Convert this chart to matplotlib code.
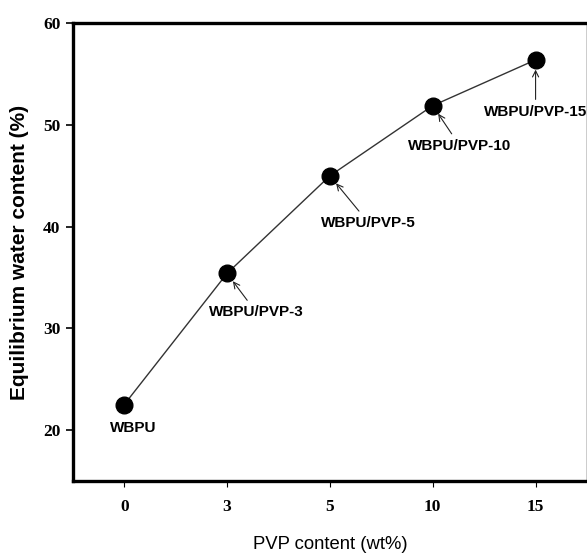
import matplotlib.pyplot as plt

# PVP content categories and equilibrium water content
pvp_labels = ['0', '3', '5', '10', '15']
ewc = [22.5, 35.4, 45.0, 51.9, 56.4]
names = ['WBPU', 'WBPU/PVP-3', 'WBPU/PVP-5', 'WBPU/PVP-10', 'WBPU/PVP-15']

narrow = ['Liberation Sans Narrow', 'Liberation Sans', 'DejaVu Sans']
xpos = list(range(len(pvp_labels)))

fig = plt.figure(figsize=(5.87, 5.54), dpi=100)
ax = fig.add_axes([0.124, 0.132, 0.876, 0.826])

ax.plot(xpos, ewc, color='#333333', lw=1.0, zorder=2)
ax.plot(xpos, ewc, 'o', color='black', ms=12, zorder=3)

# label offsets (points) relative to each marker
text_off = [(6.5, -16.5), (21, -28), (28, -34), (19.5, -29), (0, -37.5)]
arrows = [False, True, True, True, True]
for i in range(len(names)):
    if arrows[i]:
        ax.annotate(names[i], xy=(xpos[i], ewc[i]), xytext=text_off[i],
                    textcoords='offset points', ha='center', va='center',
                    fontsize=11, fontweight='bold', family=narrow,
                    arrowprops=dict(arrowstyle='->', color='#222222', lw=0.8,
                                    shrinkA=2, shrinkB=7))
    else:
        ax.annotate(names[i], xy=(xpos[i], ewc[i]), xytext=text_off[i],
                    textcoords='offset points', ha='center', va='center',
                    fontsize=11, fontweight='bold', family=narrow)

ax.set_xlim(-0.5, 4.5)
ax.set_ylim(15, 60)
ax.set_xticks(xpos)
ax.set_xticklabels(pvp_labels)
ax.set_yticks([20, 30, 40, 50, 60])

for lab in ax.get_xticklabels() + ax.get_yticklabels():
    lab.set_family(['Liberation Serif', 'DejaVu Serif'])
    lab.set_fontweight('bold')
    lab.set_fontsize(12.5)

ax.tick_params(axis='y', direction='out', length=5, width=1.2, pad=4)
ax.tick_params(axis='x', direction='out', length=4, width=0.8, pad=9)

for s in ['left', 'top', 'bottom']:
    ax.spines[s].set_linewidth(2.4)
ax.spines['right'].set_linewidth(1.0)

ax.set_ylabel('Equilibrium water content (%)', fontsize=15, fontweight='bold',
              family=['Liberation Sans', 'DejaVu Sans'], labelpad=10)
ax.set_xlabel('PVP content (wt%)', fontsize=13.3,
              family=['Liberation Sans', 'DejaVu Sans'], labelpad=15)

fig.savefig('out.png', dpi=100)
